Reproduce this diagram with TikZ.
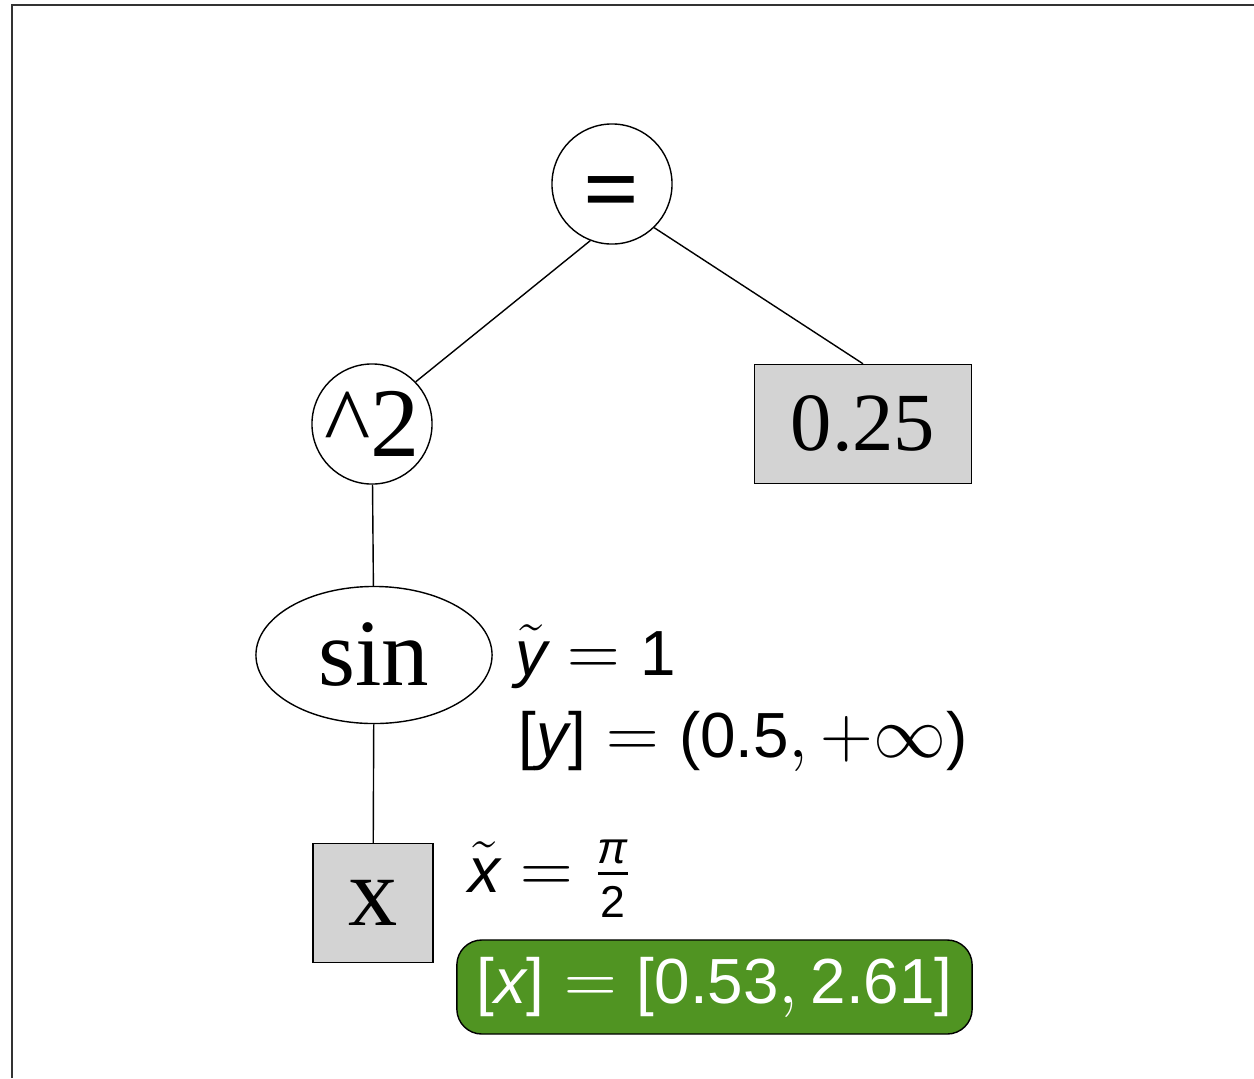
\documentclass[tikz,border=0pt]{standalone}
\usepackage{fontspec}
\usepackage{amsmath}
\usetikzlibrary{shapes.geometric}
\setmainfont{Liberation Serif}
\newfontfamily\helv{Liberation Sans}[Scale=0.93]
\newcommand{\sv}[1]{\text{\helv\itshape #1}}
\newcommand{\sn}[1]{\text{\helv #1}}
\definecolor{boxgray}{RGB}{211,211,211}
\definecolor{boxgreen}{RGB}{80,148,34}

\tikzstyle{op} = [circle, draw, minimum size=1.2cm, inner sep=0pt, font=\fontsize{28}{30}\selectfont]
\tikzstyle{fun} = [ellipse, draw, minimum width=2.36cm, minimum height=1.37cm, inner sep=0pt, font=\fontsize{27}{30}\selectfont]
\tikzstyle{leaf} = [rectangle, draw, fill=boxgray, inner sep=0pt, font=\fontsize{28}{30}\selectfont]
\tikzstyle{info} = [anchor=base west, inner sep=0pt, font=\fontsize{19.5}{22}\selectfont]
\tikzstyle{intbox} = [rectangle, rounded corners=0.25cm, draw, fill=boxgreen, text=white, inner sep=0pt, minimum width=5.15cm, minimum height=0.94cm, font=\fontsize{19.5}{22}\selectfont]

\begin{document}
\begin{tikzpicture}[x=0.01cm, y=-0.01cm]
\useasboundingbox (0,0) rectangle (1254,1078);
\draw[line width=0.7pt, black!80] (12,1078) -- (12,5) -- (1254,5);

% expression tree
\node[op, text height=0.3cm, text depth=0.3cm] (eq) at (612,184) {\raisebox{-0.38cm}{\bfseries =}};
\node[op] (sq) at (372,424) {\textasciicircum 2};
\node[leaf, minimum width=2.17cm, minimum height=1.19cm, font=\fontsize{23.5}{26}\selectfont] (c025) at (863,424) {0.25};
\node[fun] (sin) at (374,655) {sin};
\node[leaf, minimum width=1.2cm, minimum height=1.19cm] (x) at (373,903) {x};

\draw (eq.-111) -- (sq.44);
\draw (eq.-46) -- (c025.north);
\draw (sq) -- (sin);
\draw (sin) -- (x);

% values next to the nodes
\node[info] (ytil) at (515,675) {$\tilde{\sv{y}} = \sn{1}$};
\node[info] (yint) at (518,757) {$\sn{[}\sv{y}\sn{]} = \sn{(0.5}, +\infty\sn{)}$};
\node[info] (xtil) at (468,892) {$\tilde{\sv{x}} = \frac{\sv{π}}{\sn{2}}$};
\node[intbox] (xint) at (714.5,987) {$\sn{[}\sv{x}\sn{]} = \sn{[0.53}, \sn{2.61]}$};
\end{tikzpicture}
\end{document}
